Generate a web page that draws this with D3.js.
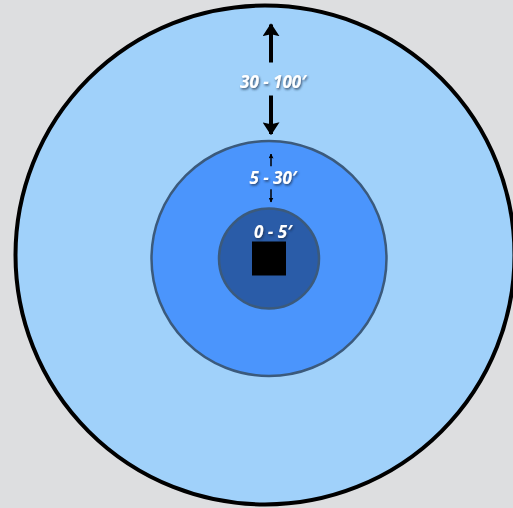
<!DOCTYPE html>
<html>
<head>
<meta charset="utf-8">
<script src="https://cdn.jsdelivr.net/npm/d3@7"></script>
<style>
    html, body { margin: 0; padding: 0; background: #dddee0; overflow: hidden; }
    svg { display: block; }
</style>
</head>
<body>
<svg id="chart" width="513" height="508"></svg>
<script>
    // zone boundaries in feet (inner edge, outer edge) and their labels
    var zoneNames = ["intimate", "social", "public"],
        zoneInnerFt = [0, 5, 30],
        zoneOuterFt = [5, 30, 100],
        zoneLabels = ["0 - 5\u2032", "5 - 30\u2032", "30 - 100\u2032"],
        zoneFills = ["#2a5ca8", "#4b95fc", "#a0d1fa"];

    var W = 513, H = 508,
        CX = 269, CY = 258.5,       // centre of the inner rings
        OUTER_CX = 265, OUTER_CY = 255;

    var svg = d3.select("#chart");

    // feet -> pixel radius (the drawing is not to scale, so piecewise)
    var r = d3.scaleLinear()
        .domain([0, 5, 30, 100])
        .range([17, 50, 117.5, 249.5]);

    var defs = svg.append("defs");
    defs.append("filter")
        .attr("id", "shadow")
        .attr("x", "-20%").attr("y", "-40%")
        .attr("width", "140%").attr("height", "180%")
        .append("feDropShadow")
        .attr("dx", 1).attr("dy", 1.5)
        .attr("stdDeviation", 1)
        .attr("flood-color", "#1a2a40")
        .attr("flood-opacity", 0.75);

    // arrowhead: len along the line, w across it
    function marker(id, len, w) {
        defs.append("marker")
            .attr("id", id)
            .attr("viewBox", "0 0 10 10")
            .attr("preserveAspectRatio", "none")
            .attr("refX", 9).attr("refY", 5)
            .attr("markerUnits", "userSpaceOnUse")
            .attr("markerWidth", len).attr("markerHeight", w)
            .attr("orient", "auto")
            .append("path")
            .attr("d", "M0,0 L10,5 L0,10 L1.5,5 Z")
            .attr("fill", "#000");
    }
    marker("head-big", 13, 17);
    marker("head-small", 5, 5);

    var zones = zoneNames.map(function (n, i) {
        return {
            name: n,
            inner: zoneInnerFt[i],
            outer: zoneOuterFt[i],
            label: zoneLabels[i],
            fill: zoneFills[i]
        };
    });

    // rings, outermost first so smaller ones sit on top
    svg.selectAll("circle.zone")
        .data(zones.slice().reverse())
        .enter().append("circle")
        .attr("class", "zone")
        .attr("cx", function (d) { return d.name === "public" ? OUTER_CX : CX; })
        .attr("cy", function (d) { return d.name === "public" ? OUTER_CY : CY; })
        .attr("r", function (d) { return r(d.outer); })
        .attr("fill", function (d) { return d.fill; })
        .attr("stroke", function (d) { return d.name === "public" ? "#000" : "#3b5a7c"; })
        .attr("stroke-width", function (d) { return d.name === "public" ? 4 : 2.5; });

    // the object at the centre
    var half = r(0);
    svg.append("rect")
        .attr("x", CX - half)
        .attr("y", CY - half)
        .attr("width", half * 2)
        .attr("height", half * 2)
        .attr("fill", "#000");

    // label positions: inside each ring, above the centre
    var labelY = {
        intimate: CY - r(5) + 23,
        social: CY - (r(30) + r(5)) / 2 + 3,
        public: OUTER_CY - (r(100) + r(30)) / 2 + 10
    };

    svg.selectAll("text.zone-label")
        .data(zones)
        .enter().append("text")
        .attr("class", "zone-label")
        .attr("x", CX + 4)
        .attr("y", function (d) { return labelY[d.name]; })
        .attr("text-anchor", "middle")
        .attr("dominant-baseline", "central")
        .attr("font-family", "'Open Sans', sans-serif")
        .attr("font-weight", "bold")
        .attr("font-style", "italic")
        .attr("font-size", 17)
        .attr("fill", "#fff")
        .attr("filter", "url(#shadow)")
        .text(function (d) { return d.label; });

    // double arrows spanning the social and public rings
    var arrows = [
        { zone: "public", top: OUTER_CY - r(100) + 17, bottom: CY - r(30) - 5, gapUp: 19, gapDown: 14, w: 4, head: "head-big" },
        { zone: "social", top: CY - r(30) + 11, bottom: CY - r(5) - 4.5, gapUp: 11.5, gapDown: 11.5, w: 1.5, head: "head-small" }
    ];

    var ax = CX + 2;
    arrows.forEach(function (a) {
        var ly = labelY[a.zone];
        svg.append("line")
            .attr("x1", ax).attr("x2", ax)
            .attr("y1", ly - a.gapUp).attr("y2", a.top + 2)
            .attr("stroke", "#000")
            .attr("stroke-width", a.w)
            .attr("marker-end", "url(#" + a.head + ")");
        svg.append("line")
            .attr("x1", ax).attr("x2", ax)
            .attr("y1", ly + a.gapDown).attr("y2", a.bottom - 2)
            .attr("stroke", "#000")
            .attr("stroke-width", a.w)
            .attr("marker-end", "url(#" + a.head + ")");
    });
</script>
</body>
</html>
